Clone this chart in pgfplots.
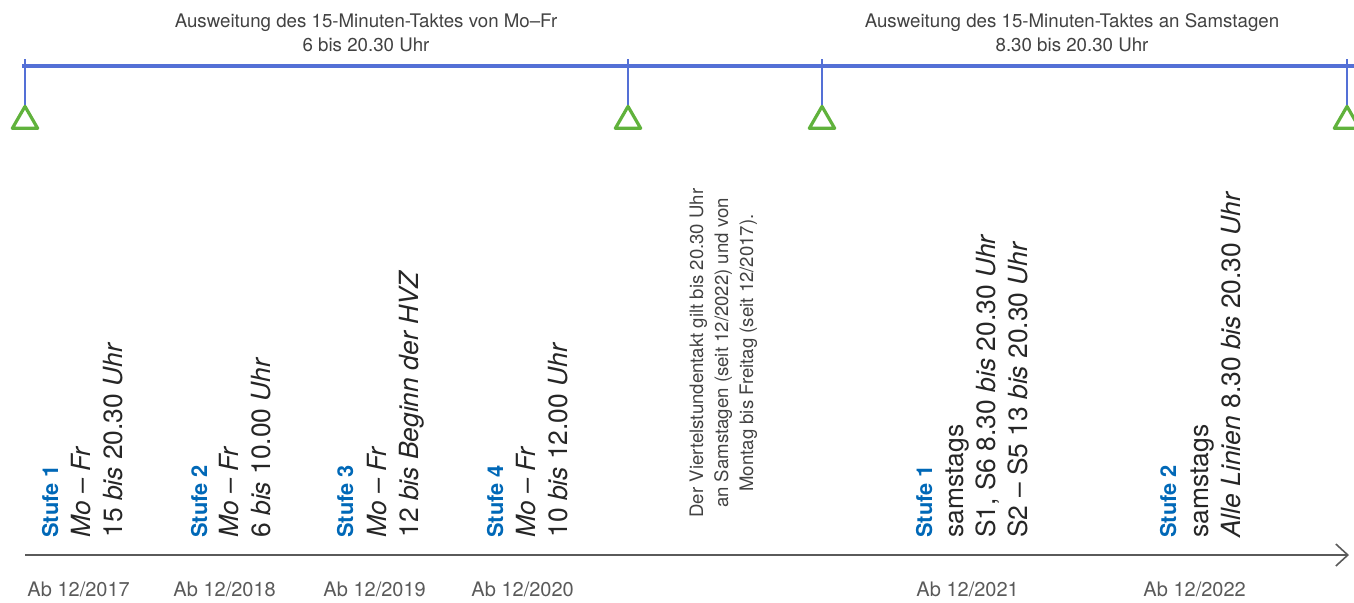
\documentclass[border=0pt]{standalone}
\usepackage{fontspec}
\setmainfont{TeX Gyre Heros}
\usepackage{pgfplots}
\pgfplotsset{compat=1.18}
\usetikzlibrary{arrows.meta}
\definecolor{tlblue}{RGB}{84,112,214}
\definecolor{tlgreen}{RGB}{96,178,60}
\definecolor{stufeblue}{RGB}{0,104,183}
\definecolor{txtgray}{RGB}{66,66,66}
\definecolor{itemgray}{RGB}{38,38,38}
\definecolor{axgray}{RGB}{90,90,90}

\begin{document}
\begin{tikzpicture}[
  stufe/.style={rotate=90, anchor=base west, inner sep=0pt, text=stufeblue,
    font=\fontsize{10.9pt}{13pt}\selectfont\bfseries},
  item/.style={rotate=90, anchor=base west, inner sep=0pt, text=itemgray,
    font=\fontsize{13.2pt}{15pt}\selectfont},
  note/.style={rotate=90, anchor=base, inner sep=0pt, text=txtgray,
    font=\fontsize{9.3pt}{11pt}\selectfont},
  head/.style={anchor=base, inner sep=0pt, text=txtgray,
    font=\fontsize{9.35pt}{11pt}\selectfont},
  datelbl/.style={anchor=base west, inner sep=0pt, text=axgray,
    font=\fontsize{10pt}{12pt}\selectfont},
]
\begin{axis}[
  scale only axis, width=677pt, height=301pt,
  xmin=0, xmax=1354, ymin=0, ymax=602, y dir=reverse,
  hide axis, clip=false,
]
% obere Zeitleiste
\addplot[tlblue, line width=1.6pt] coordinates {(22,66) (1354,66)};
\addplot[tlblue, line width=1.3pt] coordinates {(25,59) (25,107)};
\addplot[tlblue, line width=1.3pt] coordinates {(628,59) (628,107)};
\addplot[tlblue, line width=1.3pt] coordinates {(822,59) (822,107)};
\addplot[tlblue, line width=1.3pt] coordinates {(1347,59) (1347,107)};
\addplot[only marks, mark=triangle, mark size=7.3pt,
  mark options={draw=tlgreen, fill=white, line width=1.6pt, line join=round}]
  coordinates {(25,121) (628,121) (822,121) (1347,121)};

% untere Achse
\addplot[axgray, line width=0.8pt, -{Straight Barb[length=6pt,width=11pt]}]
  coordinates {(25,555) (1349,555)};

% Kopftexte
\node[head] at (366,27) {Ausweitung des 15-Minuten-Taktes von Mo–Fr};
\node[head] at (366,51) {6 bis 20.30 Uhr};
\node[head] at (1072,27) {Ausweitung des 15-Minuten-Taktes an Samstagen};
\node[head] at (1072,51) {8.30 bis 20.30 Uhr};

% Stufen Mo-Fr
\node[stufe] at (58,538) {Stufe 1};
\node[item] at (90,538) {\textit{Mo – Fr}};
\node[item] at (122,538) {15 \textit{bis} 20.30 \textit{Uhr}};

\node[stufe] at (207,538) {Stufe 2};
\node[item] at (238,538) {\textit{Mo – Fr}};
\node[item] at (270,538) {6 \textit{bis} 10.00 \textit{Uhr}};

\node[stufe] at (353,538) {Stufe 3};
\node[item] at (386,538) {\textit{Mo – Fr}};
\node[item] at (418,538) {12 \textit{bis Beginn der HVZ}};

\node[stufe] at (503,538) {Stufe 4};
\node[item] at (535,538) {\textit{Mo – Fr}};
\node[item] at (567,538) {10 \textit{bis} 12.00 \textit{Uhr}};

% Hinweis
\node[note] at (703,353) {Der Viertelstundentakt gilt bis 20.30 Uhr};
\node[note] at (728,353) {an Samstagen (seit 12/2022) und von};
\node[note] at (753,353) {Montag bis Freitag (seit 12/2017).};

% Stufen Samstag
\node[stufe] at (932,538) {Stufe 1};
\node[item] at (963,538) {samstags};
\node[item] at (995,538) {S1, S6 8.30 \textit{bis} 20.30 \textit{Uhr}};
\node[item] at (1027,538) {S2 – S5 13 \textit{bis} 20.30 \textit{Uhr}};

\node[stufe] at (1176,538) {Stufe 2};
\node[item] at (1208,538) {samstags};
\node[item] at (1240,538) {\textit{Alle Linien} 8.30 \textit{bis} 20.30 \textit{Uhr}};

% Datumsangaben
\node[datelbl] at (27,596) {Ab 12/2017};
\node[datelbl] at (173,596) {Ab 12/2018};
\node[datelbl] at (323,596) {Ab 12/2019};
\node[datelbl] at (471,596) {Ab 12/2020};
\node[datelbl] at (916,596) {Ab 12/2021};
\node[datelbl] at (1143,596) {Ab 12/2022};

\coordinate (bl) at (0,602);
\coordinate (tr) at (1354,0);
\end{axis}
\pgfresetboundingbox
\useasboundingbox (bl) rectangle (tr);
\end{tikzpicture}
\end{document}
